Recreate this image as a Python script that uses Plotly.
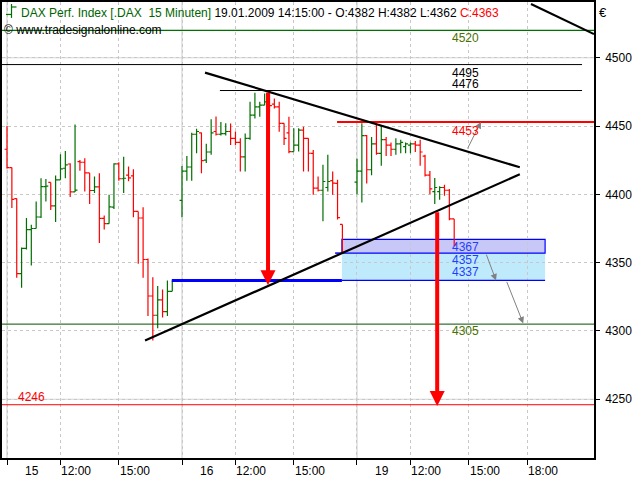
import plotly.graph_objects as go

# ---------------- data (bar slot = 15-minute slot index, 36 slots per trading day) ----------------
slots = list(range(0, 70)) + list(range(72, 93))
opens = [4433, 4419.5, 4396.8, 4342, 4360.5, 4374.2, 4375, 4383.4, 4405.7, 4408.7,
         4391.6, 4410.6, 4419.1, 4422.2, 4401.8, 4424, 4423.5, 4415.7, 4402.8, 4405.5,
         4382.4, 4378.5, 4390.7, 4422.3, 4411.4, 4414, 4413.5, 4387.5, 4382.7, 4352.3,
         4325.6, 4311.5, 4322.7, 4314.2, 4329, 4336.5,
         4395.6, 4417, 4420, 4444, 4445, 4425, 4431, 4446, 4444, 4444.5,
         4446, 4441, 4438, 4427.4, 4441, 4458, 4464, 4465.3, 4468, 4466,
         4464, 4452, 4445, 4431.3, 4436, 4447, 4441, 4430, 4404.5, 4403,
         4405, 4410, 4408, 4378,
         4409, 4417, 4443, 4418, 4437, 4430, 4440, 4436, 4433, 4437,
         4435, 4436, 4437, 4436, 4428, 4414, 4402, 4402, 4405, 4403, 4382]
highs = [4450, 4419.6, 4397, 4361, 4382.7, 4377.8, 4394.8, 4411.8, 4411.3, 4408.7,
         4413.8, 4429.3, 4431.7, 4422.7, 4451.2, 4425.2, 4426.4, 4415.7, 4413, 4415.5,
         4384.6, 4399.7, 4422.8, 4423.5, 4427.6, 4420.3, 4418.4, 4387.5, 4390.5, 4353,
         4339.4, 4332.9, 4330.4, 4337, 4337, 4337.5,
         4420.8, 4428, 4445, 4448, 4445.3, 4437, 4455, 4457, 4453, 4452,
         4451.9, 4446, 4441, 4444.6, 4467.7, 4474.3, 4467.7, 4473.8, 4476, 4470.1,
         4467.7, 4452, 4456.8, 4448.3, 4448.3, 4449.5, 4441, 4432.5, 4413.1, 4421.6,
         4428.9, 4416.7, 4410.6, 4378,
         4426, 4452, 4443.5, 4442, 4451, 4450, 4442, 4438, 4441, 4440,
         4438, 4438, 4439, 4440, 4429, 4417, 4412, 4406, 4407, 4404, 4382]
lows = [4419, 4390, 4339, 4331.6, 4359.6, 4348, 4375, 4382.7, 4394.8, 4388.5,
        4379.7, 4410.6, 4411.8, 4398, 4401.8, 4417.2, 4402.1, 4392.9, 4400.9, 4364.4,
        4374.2, 4378.5, 4389.2, 4409.9, 4400.9, 4409.5, 4383.2, 4349.2, 4339, 4311,
        4293, 4302, 4309.8, 4311, 4329, 4336,
        4383.2, 4410, 4410, 4430, 4415.5, 4423, 4429, 4443, 4443, 4443,
        4436.1, 4436, 4416.7, 4416.7, 4440, 4455.6, 4456.8, 4465.3, 4460, 4462.9,
        4445.9, 4436.1, 4430.1, 4431.3, 4431.3, 4416.7, 4416.7, 4399.7, 4402.1, 4380.3,
        4402.1, 4399.7, 4381.5, 4357,
        4400, 4394, 4408, 4414, 4429, 4421, 4428, 4428, 4429, 4430,
        4430, 4430, 4431, 4421, 4413, 4400, 4393, 4396, 4399, 4381, 4362]
closes = [4419.5, 4396.3, 4342, 4360.5, 4374.2, 4375, 4383.4, 4405.7, 4406, 4391.6,
          4410.6, 4418.6, 4421.5, 4401.8, 4403.1, 4423.5, 4415.7, 4402.8, 4405.5, 4382.4,
          4378.5, 4390.9, 4422.3, 4411.4, 4411.8, 4412, 4387.5, 4382.7, 4352.3, 4325.6,
          4311.5, 4322.7, 4314.2, 4329, 4336.5, 4337,
          4417, 4420, 4444, 4446, 4424.7, 4431, 4445, 4444, 4444.5, 4446,
          4441, 4438, 4427.4, 4441, 4458, 4464.1, 4465.3, 4467.7, 4465, 4464,
          4451.9, 4441, 4431.3, 4436.1, 4447, 4441, 4430.1, 4404.5, 4403, 4409.4,
          4409.4, 4408.2, 4383, 4357.5,
          4417, 4443, 4418, 4437, 4430, 4440, 4436, 4433, 4437, 4438,
          4437, 4437, 4436, 4431, 4414, 4404, 4405, 4405, 4403, 4382, 4363]

# x axis ticks (slot index) and their labels
tick_slots = [0, 11, 23, 36, 47, 59, 72, 83, 95, 107]
tick_labels = ["15", "12:00", "15:00", "16", "12:00", "15:00", "19", "12:00", "15:00", "18:00"]
day_slots = [0, 36, 72]
price_ticks = [4250, 4300, 4350, 4400, 4450, 4500]

# horizontal levels: value, start slot, end slot
level_values = [4520, 4495, 4476, 4453, 4305, 4246]
level_start = [-1.03, -1.03, 43.8, 67.9, -1.03, -1.03]
level_end = [120.76, 118.3, 118.3, 120.76, 120.76, 120.76]
level_label_slot = [94.4, 94.4, 94.4, 94.4, 94.4, 5.1]

# zone box values
zone_values = [4367, 4357, 4337]
zone_start, zone_end = 68.9, 110.7
support_start = 33.9

# trend lines (slot, price)
upper_trend = [(40.73, 4489.1), (105.5, 4419.8)]
lower_trend = [(28.4, 4293.0), (105.5, 4414.7)]
corner_trend = [(107.8, 4539.4), (120.76, 4517.3)]

# measured-move arrows (slot, from price, to price)
red_arrows = [(53.7, 4475.5, 4333.5), (88.5, 4388.0, 4245.0)]
# gray projection arrows (tail slot, tail price, head slot, head price)
gray_arrows = [(94.6, 4432.5, 97.5, 4453.0), (98.5, 4357.0, 100.6, 4337.0), (102.7, 4337.0, 106.2, 4305.5)]

# ---------------- styles ----------------
GREEN = "#007000"
RED = "#ff0000"
BLUE = "#0000ff"
OLIVE = "#4a7000"
FONT = "Liberation Sans, Arial, sans-serif"
X_RANGE = [-1.03, 120.76]
Y_RANGE = [4207.0, 4540.8]
L, R, T, B = 2, 46, 0, 22
PW, PH = 640 - L - R, 480 - T - B


def px_x(px):
    return (px - L) / PW


def px_y(py):
    return 1 - (py - T) / PH


fig = go.Figure()
fig.add_trace(go.Ohlc(
    x=slots, open=opens, high=highs, low=lows, close=closes,
    increasing=dict(line=dict(color=GREEN, width=1.2)),
    decreasing=dict(line=dict(color=RED, width=1.2)),
    tickwidth=0.5, hoverinfo="skip", showlegend=False,
))

shapes = []
# solid gridlines
for d in day_slots:
    shapes.append(dict(type="line", xref="x", yref="paper", x0=d, x1=d, y0=0, y1=1,
                       line=dict(color="#d4d4d4", width=1.2), layer="below"))
for v in (price_ticks[0], price_ticks[-1]):
    shapes.append(dict(type="line", xref="paper", yref="y", x0=0, x1=1, y0=v, y1=v,
                       line=dict(color="#d4d4d4", width=1.2), layer="below"))

# zone boxes
shapes.append(dict(type="rect", xref="x", yref="y", x0=zone_start, x1=zone_end,
                   y0=zone_values[2], y1=zone_values[1], fillcolor="#bfeafb",
                   line=dict(width=0), layer="below"))
shapes.append(dict(type="rect", xref="x", yref="y", x0=zone_start, x1=zone_end,
                   y0=zone_values[1], y1=zone_values[0], fillcolor="#c8c8f8",
                   line=dict(color=BLUE, width=1.2), layer="below"))
shapes.append(dict(type="line", xref="x", yref="y", x0=zone_start, x1=zone_end,
                   y0=zone_values[2], y1=zone_values[2], line=dict(color=BLUE, width=1.2)))
shapes.append(dict(type="line", xref="x", yref="y", x0=support_start, x1=zone_start,
                   y0=zone_values[2], y1=zone_values[2], line=dict(color=BLUE, width=3)))
shapes.append(dict(type="line", xref="x", yref="y", x0=zone_start - 1.4, x1=zone_start,
                   y0=zone_values[1], y1=zone_values[1], line=dict(color=BLUE, width=1.5)))

# horizontal levels
level_styles = [(GREEN, 1.2), ("#000000", 1), ("#000000", 1), (RED, 2), ("#005000", 1), (RED, 1)]
for v, s, e, (c, w) in zip(level_values, level_start, level_end, level_styles):
    shapes.append(dict(type="line", xref="x", yref="y", x0=s, x1=e, y0=v, y1=v,
                       line=dict(color=c, width=w)))

# trend lines
for (a, b) in (upper_trend, lower_trend, corner_trend):
    w = 2.2 if (a, b) != corner_trend else 1.2
    shapes.append(dict(type="line", xref="x", yref="y", x0=a[0], y0=a[1], x1=b[0], y1=b[1],
                       line=dict(color="#000000", width=w)))

# title icon
shapes += [
    dict(type="line", xref="paper", yref="paper", x0=px_x(11.5), x1=px_x(11.5), y0=px_y(2), y1=px_y(16),
         line=dict(color=GREEN, width=1.2)),
    dict(type="line", xref="paper", yref="paper", x0=px_x(6), x1=px_x(11.5), y0=px_y(12.5), y1=px_y(12.5),
         line=dict(color=GREEN, width=1.2)),
    dict(type="line", xref="paper", yref="paper", x0=px_x(11.5), x1=px_x(16.5), y0=px_y(5), y1=px_y(5),
         line=dict(color=GREEN, width=1.2)),
]

ann = []
# red measured-move arrows
for sx, p0, p1 in red_arrows:
    ann.append(dict(x=sx, y=p1, ax=sx, ay=p0, xref="x", yref="y", axref="x", ayref="y",
                    text="", showarrow=True, arrowhead=2, arrowsize=0.75, arrowwidth=4,
                    arrowcolor=RED))
# gray arrows
for tx, tp, hx, hp in gray_arrows:
    ann.append(dict(x=hx, y=hp, ax=tx, ay=tp, xref="x", yref="y", axref="x", ayref="y",
                    text="", showarrow=True, arrowhead=2, arrowsize=1.3, arrowwidth=1,
                    arrowcolor="#808080"))

# level labels
level_label_color = [OLIVE, "#000000", "#000000", RED, OLIVE, RED]
level_label_shift = [-8, -8.5, 6.5, -9, -7, 8]
for v, sx, c, sh in zip(level_values, level_label_slot, level_label_color, level_label_shift):
    ann.append(dict(x=sx, y=v, xref="x", yref="y", text=str(v), showarrow=False,
                    xanchor="center", yanchor="middle", yshift=sh,
                    font=dict(family=FONT, size=12, color=c)))
zone_label_shift = [-7.5, -7, 8.5]
for v, sh in zip(zone_values, zone_label_shift):
    ann.append(dict(x=94.4, y=v, xref="x", yref="y", text=str(v), showarrow=False,
                    xanchor="center", yanchor="middle", yshift=sh,
                    font=dict(family=FONT, size=12, color="#1f3fff")))

# x tick labels
for s, lab in zip(tick_slots, tick_labels):
    is_day = ":" not in lab
    ann.append(dict(x=s, y=px_y(471), xref="x", yref="paper", text=lab, showarrow=False,
                    xanchor="left", yanchor="middle", xshift=16 if is_day else -1,
                    font=dict(family=FONT, size=12, color="#000000")))

# header texts
title_txt = ("<span style='color:#006400'>DAX Perf. Index [.DAX  15 Minuten]</span> "
             "19.01.2009 14:15:00 - O:4382 H:4382 L:4362 <span style='color:#ff0000'>C:4363</span>")
ann.append(dict(x=px_x(19), y=px_y(11), xref="paper", yref="paper", text=title_txt,
                showarrow=False, xanchor="left", yanchor="middle",
                font=dict(family=FONT, size=12, color="#000000")))
ann.append(dict(x=px_x(2), y=px_y(28), xref="paper", yref="paper",
                text="© www.tradesignalonline.com", showarrow=False, xanchor="left",
                yanchor="middle", font=dict(family=FONT, size=12, color="#000000")))
ann.append(dict(x=px_x(597), y=px_y(11), xref="paper", yref="paper", text="€",
                showarrow=False, xanchor="left", yanchor="middle",
                font=dict(family=FONT, size=13, color="#000000")))

fig.update_layout(
    width=640, height=480,
    margin=dict(l=L, r=R, t=T, b=B),
    paper_bgcolor="white", plot_bgcolor="white",
    shapes=shapes, annotations=ann, showlegend=False,
    xaxis=dict(range=X_RANGE, tickvals=tick_slots, showticklabels=False,
               ticks="outside", ticklen=5, tickcolor="#000000",
               showgrid=True, gridcolor="#c8c8c8", griddash="dot", gridwidth=1,
               showline=True, mirror=True, linecolor="#000000", linewidth=1.5,
               zeroline=False, rangeslider=dict(visible=False), fixedrange=True),
    yaxis=dict(range=Y_RANGE, side="right", tickvals=price_ticks,
               ticktext=[str(v) for v in price_ticks],
               ticks="outside", ticklen=4, tickcolor="#000000",
               ticklabelstandoff=3,
               tickfont=dict(family=FONT, size=12, color="#000000"),
               showgrid=True, gridcolor="#c8c8c8", griddash="dot", gridwidth=1,
               showline=True, mirror=True, linecolor="#000000", linewidth=1.5,
               zeroline=False, fixedrange=True),
)

fig.write_html("out.html", config={"displayModeBar": False},
               post_script="document.body.style.margin='0';")
